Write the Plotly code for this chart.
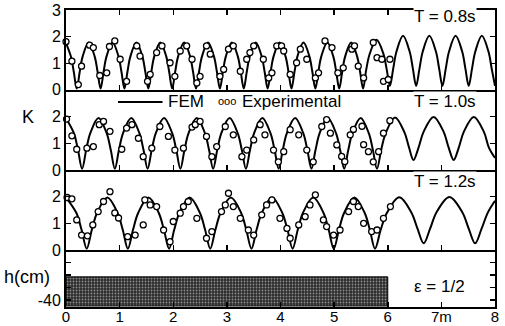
import plotly.graph_objects as go

# ---------------- data ----------------
# FEM curves (x in m, K)
fem1_x = [0.000, 0.090, 0.145,
          0.200, 0.256, 0.311, 0.423, 0.534, 0.589,
          0.645, 0.701, 0.756, 0.868, 0.979, 1.034,
          1.090, 1.146, 1.201, 1.313, 1.424, 1.479,
          1.535, 1.591, 1.646, 1.758, 1.869, 1.924,
          1.980, 2.036, 2.091, 2.203, 2.314, 2.369,
          2.425, 2.481, 2.536, 2.648, 2.759, 2.814,
          2.870, 2.926, 2.981, 3.093, 3.204, 3.259,
          3.315, 3.371, 3.426, 3.538, 3.649, 3.704,
          3.760, 3.816, 3.871, 3.983, 4.094, 4.149,
          4.205, 4.261, 4.316, 4.428, 4.539, 4.594,
          4.650, 4.706, 4.761, 4.873, 4.984, 5.039,
          5.095, 5.151, 5.206, 5.318, 5.429, 5.484,
          5.540, 5.598, 5.660, 5.790, 5.915, 5.978,
          6.040, 6.101, 6.163, 6.285, 6.408, 6.469,
          6.530, 6.591, 6.653, 6.775, 6.898, 6.959,
          7.020, 7.081, 7.143, 7.265, 7.388, 7.449,
          7.510, 7.571, 7.633, 7.755, 7.878, 7.939,
          8.000]
fem1_k = [1.76, 1.26, 0.68,
          0.05, 0.68, 1.26, 1.78, 1.26, 0.68,
          0.05, 0.68, 1.26, 1.78, 1.26, 0.68,
          0.05, 0.68, 1.26, 1.78, 1.26, 0.68,
          0.05, 0.68, 1.26, 1.78, 1.26, 0.68,
          0.05, 0.68, 1.26, 1.78, 1.26, 0.68,
          0.05, 0.68, 1.26, 1.78, 1.26, 0.68,
          0.05, 0.68, 1.26, 1.78, 1.26, 0.68,
          0.05, 0.68, 1.26, 1.78, 1.26, 0.68,
          0.05, 0.68, 1.26, 1.78, 1.26, 0.68,
          0.05, 0.68, 1.26, 1.78, 1.26, 0.68,
          0.05, 0.68, 1.26, 1.78, 1.26, 0.68,
          0.05, 0.68, 1.26, 1.78, 1.26, 0.68,
          0.05, 0.75, 1.33, 1.88, 1.38, 0.80,
          0.15, 0.79, 1.44, 2.03, 1.44, 0.79,
          0.15, 0.79, 1.44, 2.03, 1.44, 0.79,
          0.15, 0.79, 1.44, 2.03, 1.44, 0.79,
          0.15, 0.79, 1.44, 2.03, 1.44, 0.79,
          0.15]

fem2_x = [0.000, 0.147, 0.224,
          0.300, 0.376, 0.453, 0.606, 0.758, 0.835,
          0.911, 0.987, 1.064, 1.217, 1.369, 1.446,
          1.522, 1.598, 1.675, 1.828, 1.980, 2.057,
          2.133, 2.209, 2.286, 2.439, 2.591, 2.668,
          2.744, 2.820, 2.897, 3.050, 3.202, 3.279,
          3.355, 3.431, 3.508, 3.661, 3.813, 3.890,
          3.966, 4.042, 4.119, 4.272, 4.424, 4.501,
          4.577, 4.653, 4.730, 4.883, 5.035, 5.112,
          5.188, 5.264, 5.341, 5.494, 5.646, 5.723,
          5.799, 5.880, 5.965, 6.135, 6.310, 6.395,
          6.480, 6.574, 6.668, 6.855, 7.043, 7.136,
          7.230, 7.324, 7.418, 7.605, 7.793, 7.886,
          8.000]
fem2_k = [1.94, 1.38, 0.75,
          0.05, 0.75, 1.38, 1.95, 1.38, 0.75,
          0.05, 0.75, 1.38, 1.95, 1.38, 0.75,
          0.05, 0.75, 1.38, 1.95, 1.38, 0.75,
          0.05, 0.75, 1.38, 1.95, 1.38, 0.75,
          0.05, 0.75, 1.38, 1.95, 1.38, 0.75,
          0.05, 0.75, 1.38, 1.95, 1.38, 0.75,
          0.05, 0.75, 1.38, 1.95, 1.38, 0.75,
          0.05, 0.75, 1.38, 1.95, 1.38, 0.75,
          0.05, 0.75, 1.38, 1.95, 1.38, 0.75,
          0.05, 0.78, 1.40, 1.97, 1.42, 0.86,
          0.38, 0.84, 1.43, 1.99, 1.43, 0.84,
          0.38, 0.84, 1.43, 1.99, 1.43, 0.84,
          0.45]

fem3_x = [0.000, 0.194, 0.290,
          0.386, 0.482, 0.578, 0.770, 0.962, 1.058,
          1.154, 1.250, 1.346, 1.538, 1.730, 1.826,
          1.922, 2.018, 2.114, 2.306, 2.498, 2.594,
          2.690, 2.786, 2.882, 3.074, 3.266, 3.362,
          3.458, 3.554, 3.650, 3.842, 4.034, 4.130,
          4.226, 4.322, 4.418, 4.610, 4.802, 4.898,
          4.994, 5.090, 5.186, 5.378, 5.570, 5.666,
          5.762, 5.870, 5.985, 6.215, 6.440, 6.555,
          6.670, 6.790, 6.910, 7.150, 7.390, 7.510,
          7.630, 7.750, 7.870, 8.000]
fem3_k = [1.97, 1.39, 0.76,
          0.05, 0.76, 1.39, 1.97, 1.39, 0.76,
          0.05, 0.76, 1.39, 1.97, 1.39, 0.76,
          0.05, 0.76, 1.39, 1.97, 1.39, 0.76,
          0.05, 0.76, 1.39, 1.97, 1.39, 0.76,
          0.05, 0.76, 1.39, 1.97, 1.39, 0.76,
          0.05, 0.76, 1.39, 1.97, 1.39, 0.76,
          0.05, 0.76, 1.39, 1.97, 1.39, 0.76,
          0.05, 0.77, 1.40, 1.98, 1.41, 0.80,
          0.25, 0.80, 1.42, 1.99, 1.42, 0.80,
          0.25, 0.80, 1.42, 1.85]

# Experimental points
exp1_x = [0.00, 0.11, 0.23, 0.29, 0.44, 0.51, 0.63, 0.76, 0.81, 0.91,
          1.01, 1.13, 1.32, 1.38, 1.52, 1.57, 1.69, 1.79, 1.94, 2.03,
          2.13, 2.25, 2.35, 2.44, 2.50, 2.62, 2.69, 2.87, 2.94, 3.03,
          3.12, 3.25, 3.37, 3.43, 3.50, 3.68, 3.78, 3.84, 3.93, 4.02,
          4.06, 4.18, 4.30, 4.37, 4.49, 4.65, 4.71, 4.83, 4.96, 5.07,
          5.17, 5.33, 5.38, 5.45, 5.55, 5.73, 5.80, 5.89, 5.92, 6.01, 6.04]
exp1_k = [1.81, 1.08, 0.20, 0.89, 1.68, 1.59, 0.54, 0.64, 1.63, 1.84,
          1.15, 0.32, 1.65, 1.27, 0.32, 0.58, 1.40, 1.65, 1.02, 0.51,
          1.46, 1.65, 1.15, 0.26, 0.51, 1.65, 1.34, 0.51, 0.77, 1.53,
          1.65, 0.70, 1.15, 1.40, 1.65, 1.15, 0.45, 0.64, 1.65, 1.65,
          1.46, 0.58, 1.02, 1.53, 1.15, 0.45, 0.64, 1.84, 1.59, 0.64,
          0.83, 1.53, 1.65, 0.89, 0.45, 1.78, 1.21, 1.15, 0.32, 0.39, 1.15]

exp2_x = [0.01, 0.11, 0.20, 0.39, 0.51, 0.62, 0.70, 0.82, 1.04, 1.13,
          1.23, 1.35, 1.44, 1.60, 1.75, 1.91, 2.03, 2.19, 2.35, 2.41,
          2.50, 2.62, 2.72, 2.81, 2.97, 3.12, 3.28, 3.37, 3.50, 3.62,
          3.71, 3.87, 3.96, 4.06, 4.18, 4.34, 4.49, 4.61, 4.77, 4.86,
          4.93, 5.05, 5.14, 5.20, 5.30, 5.36, 5.52, 5.55, 5.64, 5.73,
          5.83, 5.92, 6.04]
exp2_k = [1.91, 1.28, 0.78, 0.82, 0.88, 1.70, 1.82, 1.45, 0.78, 1.57,
          1.70, 1.19, 0.50, 0.82, 1.63, 1.26, 0.75, 0.82, 1.61, 1.70,
          1.82, 1.26, 0.50, 0.88, 1.63, 1.32, 0.50, 0.75, 1.13, 1.70,
          1.32, 0.75, 0.31, 0.69, 1.51, 1.32, 0.75, 0.31, 1.63, 1.89,
          1.38, 0.94, 0.51, 0.32, 1.32, 1.52, 1.64, 0.95, 0.69, 0.31,
          0.69, 1.38, 1.85]

exp3_x = [0.02, 0.11, 0.20, 0.29, 0.40, 0.50, 0.60, 0.70, 0.82, 0.91,
          0.98, 1.15, 1.29, 1.44, 1.47, 1.57, 1.69, 1.82, 1.94, 2.00,
          2.13, 2.19, 2.28, 2.44, 2.62, 2.72, 2.90, 2.97, 3.03, 3.12,
          3.25, 3.40, 3.50, 3.65, 3.74, 3.84, 3.99, 4.12, 4.18, 4.34,
          4.46, 4.55, 4.65, 4.80, 4.86, 4.99, 5.11, 5.27, 5.36, 5.45,
          5.55, 5.70, 5.80, 5.92, 6.05]
exp3_k = [1.97, 1.92, 1.13, 0.56, 0.53, 0.94, 1.44, 1.82, 2.19, 1.39,
          1.20, 0.50, 0.56, 0.94, 1.88, 1.69, 1.63, 0.75, 0.31, 1.07,
          1.38, 1.63, 1.82, 1.19, 0.44, 0.69, 1.44, 1.69, 2.13, 1.63,
          1.19, 0.75, 0.56, 1.32, 1.69, 1.88, 1.19, 0.81, 0.44, 0.94,
          1.25, 1.69, 2.07, 1.13, 0.88, 0.56, 0.75, 1.44, 1.82, 1.63,
          1.00, 0.69, 0.75, 1.19, 1.63]

# Submerged plate (bottom panel)
plate_x = [0.0, 6.0]          # start, end (m)
plate_h = [-44.8, -21.5]      # bottom, top (cm)

x_tickvals = [0, 1, 2, 3, 4, 5, 6, 7, 8]
x_ticktext = ["0", "1", "2", "3", "4", "5", "6", "7m", "8"]
k_tickvals = [0, 1, 2, 3]
h_tickvals = [-40, -30, -20, -10]
h_ticktext = ["-40", "", "", ""]
panel_titles = ["T = 0.8s", "T = 1.0s", "T = 1.2s"]
legend_labels = ["FEM", "Experimental"]
eps_text = "\u03b5 = 1/2"

# ---------------- figure ----------------
FONT = "Liberation Sans, Arial, Helvetica, sans-serif"
BLACK = "#000000"
fig = go.Figure()

line_style = dict(color=BLACK, width=2, shape="spline", smoothing=1)
mk_style = dict(symbol="circle", size=6, color="white",
                line=dict(color=BLACK, width=1.3))

panels = [(fem1_x, fem1_k, exp1_x, exp1_k, "x", "y"),
          (fem2_x, fem2_k, exp2_x, exp2_k, "x2", "y2"),
          (fem3_x, fem3_k, exp3_x, exp3_k, "x3", "y3")]
for fx, fk, ex, ek, xa, ya in panels:
    fig.add_trace(go.Scatter(x=fx, y=fk, mode="lines", line=line_style,
                             name=legend_labels[0], showlegend=False,
                             cliponaxis=False, xaxis=xa, yaxis=ya))
    fig.add_trace(go.Scatter(x=ex, y=ek, mode="markers", marker=mk_style,
                             name=legend_labels[1], showlegend=False,
                             cliponaxis=False, xaxis=xa, yaxis=ya))

fig.add_trace(go.Bar(x=[(plate_x[0] + plate_x[1]) / 2],
                     y=[plate_h[1] - plate_h[0]], base=[plate_h[0]],
                     width=[plate_x[1] - plate_x[0]],
                     marker=dict(color="#2a2a2a",
                                 line=dict(color=BLACK, width=1),
                                 pattern=dict(shape=".", fgcolor="#f2f2f2",
                                              size=3, solidity=0.3)),
                     showlegend=False, xaxis="x4", yaxis="y4"))

domains = [[0.731, 1.0], [0.461, 0.731], [0.192, 0.461], [0.0, 0.192]]

common_x = dict(range=[0, 8], tickvals=x_tickvals, ticks="inside", ticklen=5,
                tickwidth=1.5, tickcolor=BLACK, showline=True, linewidth=2,
                linecolor=BLACK, layer="above traces",
                showgrid=False, zeroline=False, domain=[0, 1],
                fixedrange=True, automargin=False)
common_y = dict(ticks="inside", ticklen=5, tickwidth=1.5, tickcolor=BLACK,
                showline=True, linewidth=2, linecolor=BLACK, mirror="ticks",
                layer="above traces",
                showgrid=False, zeroline=False, fixedrange=True, automargin=False,
                tickfont=dict(family=FONT, size=16, color=BLACK))

layout = dict(
    width=505, height=326,
    margin=dict(l=66, r=10, t=10, b=19, autoexpand=False),
    paper_bgcolor="white", plot_bgcolor="white",
    font=dict(family=FONT, size=16, color=BLACK),
    showlegend=False,
    barmode="overlay",
)

for j, nm in enumerate(["", "2", "3", "4"]):
    xa = dict(common_x)
    xa["anchor"] = "y" + nm
    if nm == "":
        xa["mirror"] = "ticks"
    if nm == "4":
        xa["ticktext"] = x_ticktext
        xa["showticklabels"] = True
        xa["ticklabelstandoff"] = -5
        xa["tickfont"] = dict(family=FONT, size=15, color=BLACK)
    else:
        xa["showticklabels"] = False
    layout["xaxis" + nm] = xa

    ya = dict(common_y)
    ya["anchor"] = "x" + nm
    ya["domain"] = domains[j]
    if j == 0:
        ya.update(range=[0, 3], tickvals=k_tickvals,
                  ticktext=["0", "1", "2", "3"])
    elif j in (1, 2):
        ya.update(range=[0, 3], tickvals=k_tickvals,
                  ticktext=["0", "1", "2", ""])
    else:
        ya.update(range=[-45.6, 0], tickvals=h_tickvals, ticktext=h_ticktext)
    layout["yaxis" + nm] = ya

fig.update_layout(**layout)

# legend glyph line (FEM)
shapes = [dict(type="line", xref="x2", yref="y2", x0=0.97, x1=1.80,
               y0=2.55, y1=2.55, line=dict(color=BLACK, width=2))]
fig.update_layout(shapes=shapes)

ann = []
title_pos = [("x", "y", 2.77), ("x2", "y2", 2.58), ("x3", "y3", 2.56)]
for t, (xr, yr, yv) in zip(panel_titles, title_pos):
    ann.append(dict(text=t, x=7.07, y=yv, xref=xr, yref=yr, showarrow=False,
                    xanchor="center", yanchor="middle", bgcolor="white",
                    borderpad=0,
                    font=dict(family=FONT, size=17, color=BLACK)))
ann.append(dict(text=legend_labels[0], x=1.86, y=2.55, xref="x2", yref="y2",
                showarrow=False, xanchor="left", yanchor="middle",
                font=dict(family=FONT, size=17, color=BLACK)))
ann.append(dict(text="ooo", x=2.80, y=2.58, xref="x2", yref="y2",
                showarrow=False, xanchor="left", yanchor="middle",
                font=dict(family=FONT, size=11, color=BLACK)))
ann.append(dict(text=legend_labels[1], x=3.24, y=2.55, xref="x2", yref="y2",
                showarrow=False, xanchor="left", yanchor="middle",
                font=dict(family=FONT, size=17, color=BLACK)))
ann.append(dict(text=eps_text, x=6.96, y=-29.4, xref="x4", yref="y4",
                showarrow=False, xanchor="center", yanchor="middle",
                font=dict(family=FONT, size=17, color=BLACK)))
ann.append(dict(text="K", x=-0.088, y=0.640, xref="paper", yref="paper",
                showarrow=False, xanchor="center", yanchor="middle",
                font=dict(family=FONT, size=18, color=BLACK)))
ann.append(dict(text="h(cm)", x=-0.092, y=0.101, xref="paper", yref="paper",
                showarrow=False, xanchor="center", yanchor="middle",
                font=dict(family=FONT, size=18, color=BLACK)))
fig.update_layout(annotations=ann)

fig.write_html("out.html",
               config={"displayModeBar": False, "staticPlot": True},
               post_script="document.body.style.margin='0px';"
                           "document.body.style.overflow='hidden';")
